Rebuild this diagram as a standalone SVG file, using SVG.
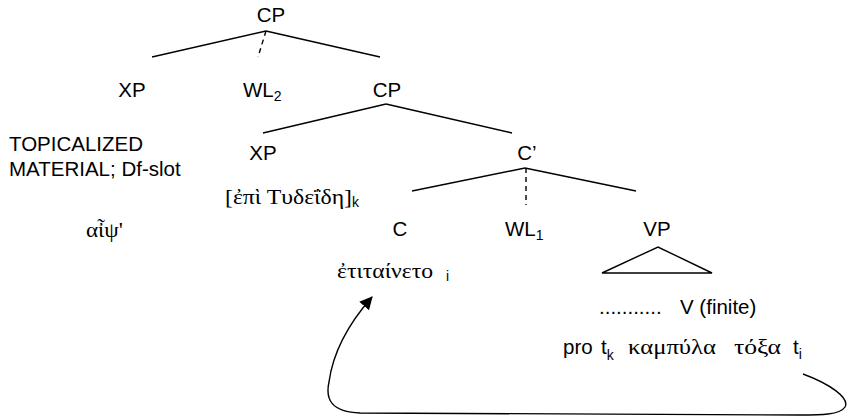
<svg xmlns="http://www.w3.org/2000/svg" width="848" height="417" viewBox="0 0 848 417">
  <style>
    .lbl { font-family: "Liberation Sans", Arial, sans-serif; font-size: 20.5px; fill: #000; }
    .sub { font-family: "Liberation Sans", Arial, sans-serif; font-size: 14px; fill: #000; }
    .grk { font-family: "Liberation Serif", "DejaVu Serif", serif; font-size: 21px; fill: #000; }
    .edge { stroke: #000; stroke-width: 1.4; fill: none; }
    .dash { stroke: #000; stroke-width: 1.4; fill: none; stroke-dasharray: 5 4; }
  </style>
  <defs>
    <marker id="arrow" viewBox="0 0 12 12" refX="11" refY="6" markerWidth="13" markerHeight="13" markerUnits="userSpaceOnUse" orient="auto">
      <path d="M0,0 L12,6 L0,12 z" fill="#000"/>
    </marker>
  </defs>
  <rect width="848" height="417" fill="#fff"/>

  <!-- tree branches, the VP triangle and the movement arrow -->
  <g id="connectors">
    <line class="edge" x1="266" y1="31" x2="152" y2="57"/>
    <line class="edge" x1="266" y1="31" x2="380" y2="57"/>
    <line class="dash" x1="266" y1="31" x2="258" y2="57"/>
    <line class="edge" x1="386" y1="104" x2="263" y2="133"/>
    <line class="edge" x1="386" y1="104" x2="512" y2="133"/>
    <line class="edge" x1="525" y1="168" x2="412" y2="191"/>
    <line class="edge" x1="525" y1="168" x2="636" y2="191"/>
    <line class="dash" x1="526" y1="168" x2="526" y2="205"/>
    <path class="edge" d="M602,273 L658,247 L712,273 Z"/>
    <path class="edge" marker-end="url(#arrow)" d="M803,374 C830,384 850,398 845,407 C840,415 820,415 800,415 L360,413 C332,412 325,400 329,382 C333,352 350,322 372,297"/>
  </g>

  <g id="cp-top"><text class="lbl" x="271" y="22" text-anchor="middle">CP</text></g>
  <g id="xp-1"><text class="lbl" x="132" y="97" text-anchor="middle">XP</text></g>
  <g id="wl2"><text class="lbl" x="243" y="97">WL<tspan class="sub" dy="4">2</tspan></text></g>
  <g id="cp-2"><text class="lbl" x="387" y="97" text-anchor="middle">CP</text></g>

  <g id="topicalized">
    <text class="lbl" x="9" y="151">TOPICALIZED</text>
    <text class="lbl" x="9" y="176">MATERIAL; Df-slot</text>
  </g>
  <g id="xp-2"><text class="lbl" x="263" y="160" text-anchor="middle">XP</text></g>
  <g id="c-bar"><text class="lbl" x="527" y="160" text-anchor="middle">C’</text></g>
  <g id="xp-2-content">
    <text class="grk" x="225" y="204" textLength="127" lengthAdjust="spacingAndGlyphs">[ἐπὶ Τυδεΐδη]</text>
    <text class="sub" x="352" y="207">k</text>
  </g>

  <g id="aips"><text class="grk" x="86" y="237" textLength="37" lengthAdjust="spacingAndGlyphs">αἶψ'</text></g>
  <g id="c"><text class="lbl" x="400" y="236" text-anchor="middle">C</text></g>
  <g id="wl1"><text class="lbl" x="505" y="236">WL<tspan class="sub" dy="4">1</tspan></text></g>
  <g id="vp"><text class="lbl" x="657" y="236" text-anchor="middle">VP</text></g>

  <g id="c-content">
    <text class="grk" x="337" y="278" textLength="96" lengthAdjust="spacingAndGlyphs">ἐτιταίνετο</text>
    <text class="sub" x="446" y="281">i</text>
  </g>

  <g id="vp-content">
    <text class="lbl" x="599" y="314">...........</text>
    <text class="lbl" x="680" y="314">V (finite)</text>
    <text class="lbl" x="563" y="354">pro</text>
    <text class="lbl" x="601" y="354">t<tspan class="sub" dy="6">k</tspan></text>
    <text class="grk" x="628" y="354" textLength="88" lengthAdjust="spacingAndGlyphs">καμπύλα</text>
    <text class="grk" x="734" y="354" textLength="47" lengthAdjust="spacingAndGlyphs">τόξα</text>
    <text class="lbl" x="793" y="354">t<tspan class="sub" dy="5">i</tspan></text>
  </g>
</svg>
